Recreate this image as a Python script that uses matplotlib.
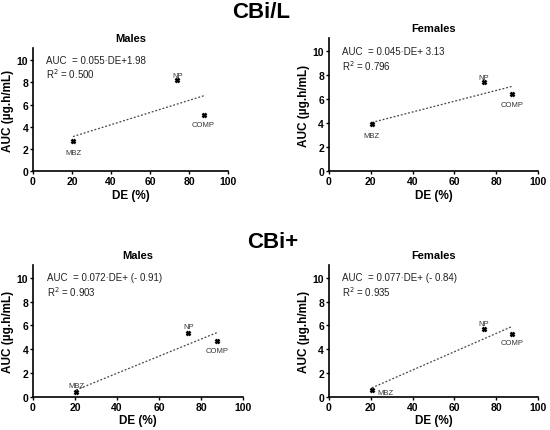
import matplotlib.pyplot as plt

plt.rcParams['font.family'] = ['Liberation Sans', 'DejaVu Sans']

# Drug names and dissolution efficiency (DE, %)
labels = ['MBZ', 'NP', 'COMP']
de = [20.5, 74, 87.5]

# AUC values (ug.h/mL)
auc_cbil_m = [2.7, 8.2, 5.1]
auc_cbil_f = [3.9, 7.4, 6.4]
auc_cbip_m = [0.4, 5.4, 4.7]
auc_cbip_f = [0.6, 5.7, 5.3]

# Linear fits (slope, intercept) and R2
fit_cbil_m = (0.055, 1.98, '0.500')
fit_cbil_f = (0.045, 3.13, '0.796')
fit_cbip_m = (0.072, -0.91, '0.903')
fit_cbip_f = (0.077, -0.84, '0.935')

eq_texts = ['AUC  = 0.055\u00b7DE+1.98',
            'AUC  = 0.045\u00b7DE+ 3.13',
            'AUC  = 0.072\u00b7DE+ (- 0.91)',
            'AUC  = 0.077\u00b7DE+ (- 0.84)']

fig = plt.figure(figsize=(5.5, 4.31), dpi=100)

panels = [
    ([0.06, 0.601, 0.3545, 0.285], 'Males', auc_cbil_m, fit_cbil_m, eq_texts[0],
     [(0, -1.0), (0, 0.45), (0, -0.9)]),
    ([0.598, 0.601, 0.38, 0.308], 'Females', auc_cbil_f, fit_cbil_f, eq_texts[1],
     [(0, -0.9), (0, 0.45), (0, -0.85)]),
    ([0.06, 0.0773, 0.382, 0.306], 'Males', auc_cbip_m, fit_cbip_m, eq_texts[2],
     [(0, 0.5), (0, 0.5), (0, -0.85)]),
    ([0.598, 0.0773, 0.38, 0.306], 'Females', auc_cbip_f, fit_cbip_f, eq_texts[3],
     [(6.5, -0.25), (0, 0.5), (0, -0.7)]),
]

for rect, title, auc, fit, eq, offs in panels:
    ax = fig.add_axes(rect)
    slope, inter, r2 = fit

    # Dotted regression line over the data range
    xs = [de[0], de[-1]]
    ys = [slope * x + inter for x in xs]
    ax.plot(xs, ys, linestyle=(0, (1.5, 1.5)), color='#444444', linewidth=0.9)

    ax.plot(de, auc, linestyle='none', marker='x', color='black',
            markersize=3.5, markeredgewidth=1.8)

    for name, x, y, (dx, dy) in zip(labels, de, auc, offs):
        ax.text(x + dx, y + dy, name, fontsize=5.5, color='#333333',
                ha='center', va='center')

    ax.text(0.065, 0.905, eq, transform=ax.transAxes, fontsize=7, va='center', color='#222222')
    ax.text(0.065, 0.80, 'R$^2$ = ' + r2, transform=ax.transAxes, fontsize=7, va='center',
            color='#222222')

    ax.set_xlim(0, 100)
    ax.set_ylim(0, 11.1)
    ax.set_xticks([0, 20, 40, 60, 80, 100])
    ax.set_yticks([0, 2, 4, 6, 8, 10])
    ax.spines['top'].set_visible(False)
    ax.spines['right'].set_visible(False)
    ax.spines['left'].set_linewidth(1.2)
    ax.spines['bottom'].set_linewidth(1.2)
    ax.tick_params(direction='out', length=2.5, width=1, labelsize=7.5, pad=1)
    for lab in ax.get_xticklabels() + ax.get_yticklabels():
        lab.set_fontweight('bold')
    ax.set_xlabel('DE (%)', fontsize=8.5, fontweight='bold', labelpad=2)
    ax.set_ylabel('AUC (\u00b5g.h/mL)', fontsize=8.5, fontweight='bold', labelpad=2)
    ax.set_title(title, fontsize=8, fontweight='bold', pad=5)

fig.text(0.475, 0.971, 'CBi/L', fontsize=16, fontweight='bold', ha='center', va='center')
fig.text(0.495, 0.437, 'CBi+', fontsize=16, fontweight='bold', ha='center', va='center')

fig.savefig('out.png', dpi=100)
